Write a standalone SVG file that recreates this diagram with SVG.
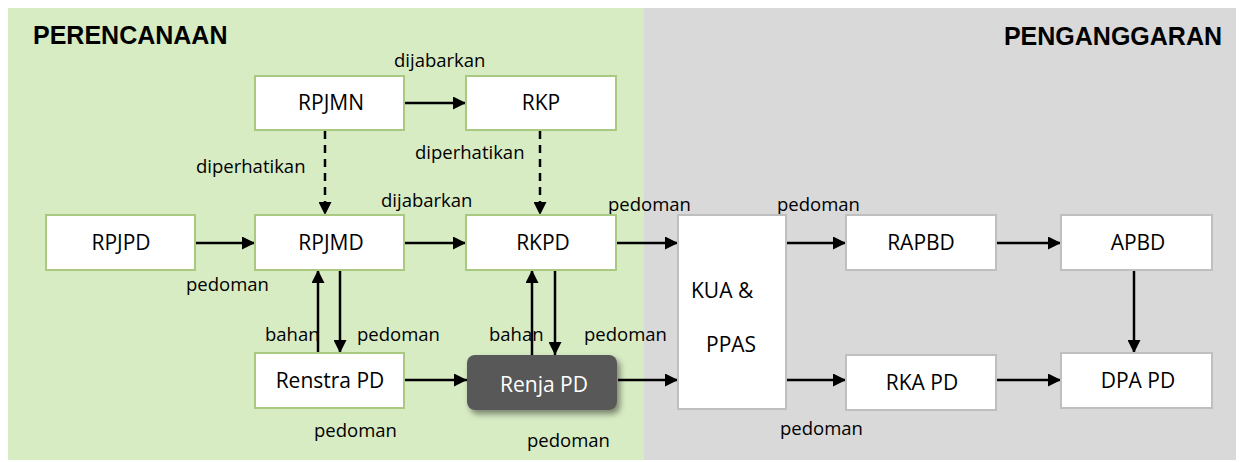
<svg xmlns="http://www.w3.org/2000/svg" width="1240" height="462" viewBox="0 0 1240 462">
<style>
.lbl{font-family:"Open Sans","Liberation Sans",sans-serif;font-size:18.5px;fill:#000}
.bt{font-family:"Open Sans","Liberation Sans",sans-serif;font-size:21px;fill:#000;text-anchor:middle}
.title{font-family:"Liberation Sans",Arial,sans-serif;font-size:25px;font-weight:bold;fill:#000}
.gb{fill:#fff;stroke:#a8c97f;stroke-width:2}
.yb{fill:#fff;stroke:#bfbfbf;stroke-width:2}
.ar{fill:none;stroke:#000;stroke-width:2.5;marker-end:url(#ah)}
.ds{stroke-dasharray:8 6}
</style>
<defs>
<marker id="ah" markerUnits="userSpaceOnUse" markerWidth="13" markerHeight="13" refX="13" refY="6.5" orient="auto">
<path d="M0,0 L13,6.5 L0,13 z" fill="#000"/>
</marker>
<filter id="sh" x="-20%" y="-20%" width="140%" height="160%">
<feDropShadow dx="3" dy="4" stdDeviation="3" flood-color="#000" flood-opacity="0.45"/>
</filter>
</defs>
<rect x="8" y="8" width="636" height="452" fill="#d8ecc4"/>
<rect x="644" y="8" width="592" height="452" fill="#d9d9d9"/>
<text class="title" x="33" y="44">PERENCANAAN</text>
<text class="title" x="1222" y="45" text-anchor="end">PENGANGGARAN</text>

<g id="connectors">
<path class="ar" d="M405,103 H466"/>
<path class="ar ds" d="M325,131 V215"/>
<path class="ar ds" d="M540,131 V215"/>
<path class="ar" d="M196,243 H255"/>
<path class="ar" d="M405,243 H466"/>
<path class="ar" d="M617,243 H678"/>
<path class="ar" d="M787,243 H846"/>
<path class="ar" d="M997,243 H1061"/>
<path class="ar" d="M1134,271 V353"/>
<path class="ar" d="M318,352 V270"/>
<path class="ar" d="M340,271 V353"/>
<path class="ar" d="M532,355 V270"/>
<path class="ar" d="M555,271 V355"/>
<path class="ar" d="M405,380 H467"/>
<path class="ar" d="M618,380 H678"/>
<path class="ar" d="M787,380 H846"/>
<path class="ar" d="M997,380 H1061"/>
<text class="lbl" x="394" y="67">dijabarkan</text>
<text class="lbl" x="196" y="173">diperhatikan</text>
<text class="lbl" x="415" y="159">diperhatikan</text>
<text class="lbl" x="381" y="207">dijabarkan</text>
<text class="lbl" x="608" y="211">pedoman</text>
<text class="lbl" x="777" y="211">pedoman</text>
<text class="lbl" x="186" y="291">pedoman</text>
<text class="lbl" x="265" y="341">bahan</text>
<text class="lbl" x="357" y="341">pedoman</text>
<text class="lbl" x="489" y="341">bahan</text>
<text class="lbl" x="584" y="341">pedoman</text>
<text class="lbl" x="314" y="437">pedoman</text>
<text class="lbl" x="527" y="447">pedoman</text>
<text class="lbl" x="780" y="435">pedoman</text>
</g>

<g id="rpjmn"><rect class="gb" x="255" y="76" width="149" height="54"/><text class="bt" x="331" y="110">RPJMN</text></g>
<g id="rkp"><rect class="gb" x="466" y="76" width="150" height="54"/><text class="bt" x="541" y="110">RKP</text></g>
<g id="rpjpd"><rect class="gb" x="46" y="215" width="149" height="55"/><text class="bt" x="121" y="250">RPJPD</text></g>
<g id="rpjmd"><rect class="gb" x="255" y="215" width="149" height="55"/><text class="bt" x="331" y="250">RPJMD</text></g>
<g id="rkpd"><rect class="gb" x="466" y="215" width="150" height="55"/><text class="bt" x="543" y="250">RKPD</text></g>
<g id="renstra"><rect class="gb" x="255" y="353" width="149" height="55"/><text class="bt" x="330" y="388">Renstra PD</text></g>
<g id="renja"><rect x="467" y="355" width="150" height="55" rx="8" fill="#595959" filter="url(#sh)"/><text class="bt" x="544" y="392" style="fill:#fff">Renja PD</text></g>
<g id="kua"><rect class="yb" x="678" y="215" width="108" height="194"/><text class="lbl" x="691" y="298" style="font-size:21px">KUA &amp;</text><text class="lbl" x="706" y="352" style="font-size:21px">PPAS</text></g>
<g id="rapbd"><rect class="yb" x="846" y="215" width="150" height="55"/><text class="bt" x="921" y="250">RAPBD</text></g>
<g id="apbd"><rect class="yb" x="1061" y="215" width="151" height="55"/><text class="bt" x="1138" y="250">APBD</text></g>
<g id="rkapd"><rect class="yb" x="846" y="355" width="150" height="55"/><text class="bt" x="922" y="390">RKA PD</text></g>
<g id="dpapd"><rect class="yb" x="1061" y="353" width="151" height="55"/><text class="bt" x="1138" y="388">DPA PD</text></g>
</svg>
